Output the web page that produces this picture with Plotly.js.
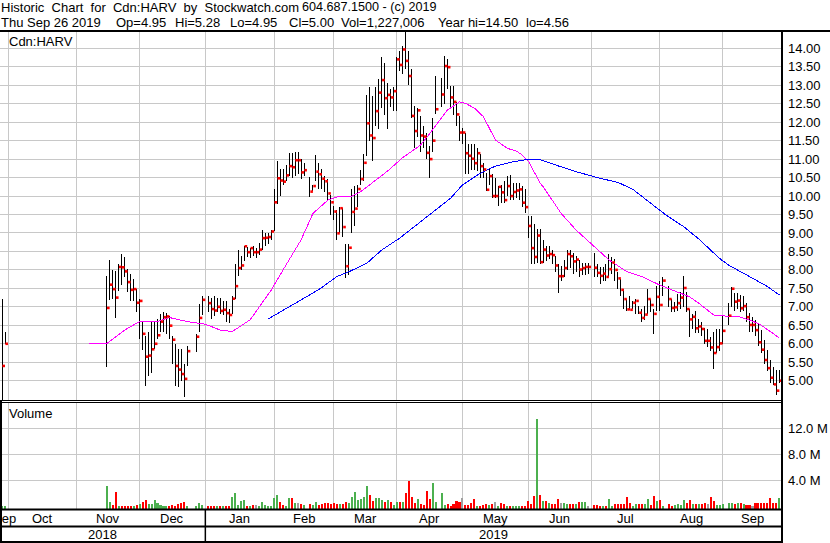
<!DOCTYPE html>
<html><head><meta charset="utf-8">
<script src="https://cdn.plot.ly/plotly-3.0.1.min.js"></script>
<style>
html,body{margin:0;padding:0;background:#fff;}
#chart{width:830px;height:543px;}
.scatterlayer .js-line{shape-rendering:crispEdges;}
</style></head><body><div id="chart"></div>
<script>
// ---------- DATA ----------
// Two isolated trades in Sep 2018
const preDates = ['2018-09-27', '2018-09-28'];
const preHigh  = [7.20, 6.33];
const preLow   = [4.40, 5.99];
const preClose = [5.40, 6.00];
const preVolM  = [0.10, 0.10];

// Consecutive weekdays starting here (null = holiday / no trade)
const startDate = '2018-11-15';
const high = [
 7.84,8.27,8.00,7.96,8.16,8.43,8.34,8.02,7.89,7.75,7.48,7.20,
 6.58,6.22,6.31,6.62,6.62,6.67,6.80,6.85,6.83,6.76,6.22,5.99,5.86,5.85,5.45,5.95,null,null,6.26,7.07,7.30,
 null,7.30,7.25,7.30,7.25,7.25,7.16,7.16,6.95,7.30,8.17,8.55,8.39,8.66,8.62,8.59,8.64,8.60,8.73,9.09,9.00,9.00,9.09,
 10.18,10.94,10.72,10.72,10.85,11.17,11.17,11.19,11.19,10.99,10.90,null,10.52,10.31,11.10,10.90,10.72,10.54,10.45,10.04,
 9.72,9.62,9.69,9.67,8.69,8.69,10.20,10.27,10.31,10.71,11.13,12.73,12.94,12.71,12.96,13.16,13.77,13.61,13.07,12.89,12.94,
 13.77,13.93,14.06,14.50,13.93,13.43,12.44,12.39,12.17,11.90,11.72,11.36,12.12,13.25,null,13.20,13.79,13.70,12.98,12.98,12.55,12.17,
 11.85,11.72,11.40,11.40,11.40,11.31,11.13,10.90,10.63,10.77,10.59,10.50,10.27,10.30,10.40,10.54,10.58,10.36,10.36,10.36,10.27,10.18,9.46,
 9.46,9.23,9.10,9.10,8.82,8.64,8.64,8.55,8.37,8.15,8.10,8.28,8.55,8.55,8.46,8.37,8.28,8.19,8.19,8.19,
 null,8.47,8.16,8.07,8.07,8.16,8.43,8.34,8.30,7.93,7.75,7.48,7.21,7.30,7.16,7.21,7.03,6.94,7.03,7.48,7.21,6.94,7.57,
 7.71,7.80,null,7.57,7.21,7.12,7.35,7.39,7.84,7.39,6.94,6.80,6.89,6.67,6.58,6.44,6.40,6.17,6.31,6.40,6.40,6.76,
 null,7.10,7.55,7.37,7.37,7.32,7.28,7.10,6.82,6.73,6.64,6.55,6.37,6.10,5.83,5.56,5.38,5.29,5.28
];
const low = [
 5.36,7.18,7.20,6.70,7.44,7.60,7.80,7.40,7.16,7.16,6.85,6.13,
 5.84,4.86,5.12,5.22,5.86,6.13,6.31,6.31,6.26,6.13,5.45,4.86,4.82,5.00,4.56,5.40,null,null,5.78,6.32,6.78,
 null,6.85,6.67,6.75,6.85,6.80,6.78,6.60,6.55,6.80,7.20,7.83,8.01,8.23,8.35,8.33,8.38,8.33,8.40,8.55,8.65,8.71,8.80,
 9.05,9.78,10.00,10.31,10.40,10.54,10.50,10.54,10.60,10.45,10.55,null,9.98,10.15,10.40,10.20,10.20,10.12,9.90,9.50,
 9.36,8.81,9.00,8.90,7.77,7.87,9.00,9.20,9.70,10.30,10.40,11.08,11.50,10.95,11.90,11.81,12.39,12.20,11.81,12.40,12.30,
 12.30,13.39,13.30,13.43,13.00,12.10,11.31,11.60,11.18,11.30,11.00,10.50,11.20,12.21,null,12.40,12.50,12.90,12.40,12.20,11.90,11.50,
 11.40,10.59,10.59,10.70,10.70,10.68,10.50,10.50,10.14,10.30,9.95,9.95,9.73,9.80,9.82,10.00,9.90,9.90,9.95,9.90,9.70,9.55,8.87,
 8.15,8.15,8.20,8.15,8.20,8.25,8.30,8.15,7.95,7.38,7.70,7.80,8.00,8.05,7.90,7.95,7.80,7.85,7.85,7.90,
 null,7.80,7.80,7.62,7.70,7.70,7.80,7.90,7.70,7.48,7.30,6.94,6.90,6.92,6.95,6.80,6.80,6.60,6.65,6.80,6.85,6.26,6.90,
 6.90,7.30,null,7.00,6.85,6.85,6.90,6.95,7.00,6.85,6.17,6.40,6.30,6.30,6.20,5.99,5.90,5.80,5.31,5.75,5.80,6.00,
 null,6.50,7.00,6.90,6.95,6.85,6.90,6.60,6.33,6.33,6.20,5.95,5.75,5.45,5.25,4.95,4.88,4.61,4.95
];
const close = [
 6.97,7.60,7.48,7.25,8.08,8.07,7.96,7.67,7.46,7.48,7.11,7.16,
 6.27,5.65,5.68,5.85,6.00,6.23,6.60,6.72,6.74,6.49,6.11,5.40,5.30,5.18,5.05,5.80,null,null,6.19,6.70,7.19,
 null,7.10,6.94,6.90,7.00,6.89,6.92,6.83,6.78,7.22,7.56,8.05,8.12,8.64,8.48,8.59,8.48,8.48,8.55,8.86,8.87,8.89,9.04,
 9.83,10.48,10.42,10.39,10.56,10.81,10.78,10.97,10.97,10.64,10.70,null,10.12,10.27,10.66,10.59,10.47,10.40,10.07,9.83,
 9.58,8.99,9.67,9.16,8.10,8.60,9.57,9.66,10.19,10.46,10.90,11.97,11.64,11.57,12.30,12.80,13.14,12.65,12.74,12.67,12.84,
 13.70,13.55,13.97,13.66,13.25,12.17,11.76,12.32,11.64,11.61,11.17,11.00,11.50,12.35,null,12.75,13.52,13.49,12.67,12.55,12.21,11.72,
 11.72,11.16,11.09,11.01,10.89,11.16,10.81,10.72,10.17,10.54,10.00,10.00,10.25,10.10,9.89,10.27,10.00,10.11,10.15,10.18,9.82,9.70,9.19,
 8.59,8.35,8.93,8.21,8.55,8.39,8.43,8.40,8.12,7.83,7.83,8.05,8.43,8.37,8.23,8.28,8.01,8.05,8.08,8.08,
 null,8.06,7.92,7.84,7.90,7.81,8.02,8.20,8.00,7.77,7.46,7.21,6.93,6.92,7.11,7.16,6.84,6.70,6.79,7.21,7.05,6.81,7.27,
 7.05,7.71,null,7.21,6.97,6.99,7.10,7.25,7.51,6.94,6.66,6.73,6.42,6.47,6.40,6.08,6.08,5.90,5.75,5.91,6.01,6.35,
 null,6.76,7.49,7.14,7.17,6.96,7.02,6.72,6.51,6.51,6.37,6.04,5.84,5.56,5.34,5.08,4.90,4.73,5.00
];
const volM = [ // millions of shares
 3.1,0.66,0.2,2.25,0.1,0.1,0.1,0.1,0.1,0.1,0.15,0.4,
 0.6,1.0,0.4,0.4,0.9,0.5,0.2,0.1,0.1,0.1,0.2,0.1,0.35,0.55,0.6,0.1,null,null,0.1,0.45,0.2,
 null,0.05,0.05,0.05,0.1,0.05,0.1,0.1,0.05,1.4,2.0,0.15,0.8,0.9,0.05,0.1,0.15,0.15,0.1,0.6,0.2,0.1,0.1,
 1.3,1.8,0.7,0.15,0.1,1.3,1.3,0.45,0.45,0.35,0.2,null,0.35,0.2,0.67,0.2,0.3,0.46,0.56,0.3,
 0.46,0.35,0.35,0.35,0.6,0.56,1.5,2.2,0.9,1.2,1.5,3.1,1.7,0.87,1.3,1.3,1.0,0.72,1.0,0.6,0.25,
 0.67,0.67,0.72,2.1,3.9,1.5,0.56,1.2,0.3,0.2,2.36,1.13,3.59,0.67,null,2.05,0.2,0.35,0.1,0.4,0.8,0.67,
 1.3,0.2,0.2,0.56,1.13,0.1,0.1,0.15,0.35,0.15,0.4,0.67,0.1,0.46,0.3,0.05,0.05,0.05,0.05,0.05,0.05,0.05,0.82,
 0.4,1.59,13.4,1.79,0.87,0.87,0.56,0.3,0.3,1.18,0.56,0.56,0.4,0.4,0.3,0.3,0.6,0.72,0.72,0.05,
 null,0.15,0.15,0.05,0.05,0.1,1.18,0.1,0.3,0.4,0.3,0.4,1.49,0.56,0.1,0.3,0.4,0.4,0.4,1.18,0.2,1.59,0.77,
 0.97,0.05,null,0.3,0.1,0.15,0.3,0.2,0.97,0.46,0.97,0.3,0.3,0.35,0.3,0.46,0.4,1.44,0.82,0.2,0.2,0.4,
 null,0.46,0.56,0.4,0.56,0.56,0.4,0.2,0.15,0.1,0.46,0.46,0.46,0.46,0.46,1.28,0.46,0.46,1.227006
];

// Moving averages
const magDates = ['2018-11-07','2018-11-15','2018-11-23','2018-11-30','2018-12-10','2018-12-14','2018-12-24','2019-01-01','2019-01-08','2019-01-14','2019-01-22','2019-01-31','2019-02-06','2019-02-14','2019-02-20','2019-02-27','2019-03-05','2019-03-11','2019-03-14','2019-03-20','2019-03-27','2019-04-03','2019-04-11','2019-04-17','2019-04-24','2019-04-30','2019-05-02','2019-05-07','2019-05-10','2019-05-16','2019-05-22','2019-05-27','2019-05-29','2019-05-31','2019-06-06','2019-06-07','2019-06-17','2019-06-24','2019-07-02','2019-07-09','2019-07-17','2019-07-24','2019-08-01','2019-08-09','2019-08-15','2019-08-20','2019-08-27','2019-09-02','2019-09-06','2019-09-12','2019-09-17','2019-09-23','2019-09-26'];
const magVals = [6.00,6.00,6.37,6.60,6.60,6.71,6.60,6.53,6.37,6.33,6.65,7.45,8.00,8.81,9.53,9.89,10.00,10.00,10.12,10.37,10.68,11.04,11.38,11.79,12.33,12.55,12.51,12.38,12.15,11.52,11.29,11.22,11.11,10.95,10.35,10.25,9.53,9.08,8.63,8.27,7.95,7.82,7.59,7.41,7.27,7.10,6.78,6.75,6.75,6.64,6.55,6.33,6.15];
const blueDates = ['2019-01-30','2019-02-11','2019-02-22','2019-03-04','2019-03-08','2019-03-18','2019-03-25','2019-04-02','2019-04-10','2019-04-18','2019-04-25','2019-05-01','2019-05-09','2019-05-16','2019-05-24','2019-05-30','2019-06-06','2019-06-17','2019-06-24','2019-07-04','2019-07-12','2019-07-19','2019-07-29','2019-08-05','2019-08-13','2019-08-20','2019-08-29','2019-09-03','2019-09-12','2019-09-20','2019-09-26'];
const blueVals = [6.67,7.05,7.47,7.82,7.95,8.18,8.54,8.86,9.24,9.64,9.94,10.30,10.62,10.81,10.93,10.98,10.98,10.79,10.66,10.48,10.37,10.18,9.80,9.49,9.17,8.84,8.31,8.13,7.82,7.55,7.32];

// Axis labels and header texts
const monthStarts = ['2018-10-01','2018-11-01','2018-12-01','2019-01-01','2019-02-01','2019-03-01','2019-04-01','2019-05-01','2019-06-01','2019-07-01','2019-08-01','2019-09-01'];
const monthNames = ['Sep','Oct','Nov','Dec','Jan','Feb','Mar','Apr','May','Jun','Jul','Aug','Sep'];
const yearNames = ['2018','2019'];
const priceTicks = [5.0,5.5,6.0,6.5,7.0,7.5,8.0,8.5,9.0,9.5,10.0,10.5,11.0,11.5,12.0,12.5,13.0,13.5,14.0];
const volTicks = [4, 8, 12];
const header1 = [['Historic','Chart','for','Cdn:HARV','by','Stockwatch.com'], ['604.687.1500 - (c) 2019']];
const header2 = ['Thu Sep 26 2019','Op=4.95','Hi=5.28','Lo=4.95','Cl=5.00','Vol=1,227,006','Year hi=14.50','lo=4.56'];

// ---------- BUILD ----------
const ORIGIN = Date.UTC(2018, 9, 1); // Monday -> weekday slot 0
function slotOf(s) {
  const p = s.split('-').map(Number);
  const days = Math.round((Date.UTC(p[0], p[1]-1, p[2]) - ORIGIN) / 86400000);
  const w = Math.floor(days / 7), r = days - 7*w;
  return 5*w + Math.min(r, 4);
}
const X=[],H=[],L=[],C=[],V=[];
preDates.forEach((d,k)=>{X.push(slotOf(d));H.push(preHigh[k]);L.push(preLow[k]);C.push(preClose[k]);V.push(preVolM[k]);});
const s0 = slotOf(startDate);
high.forEach((h,k)=>{ if(h==null) return; X.push(s0+k);H.push(h);L.push(low[k]);C.push(close[k]);V.push(volM[k]); });

const segX=[], segY=[];
X.forEach((x,k)=>{ segX.push(x,x,null); segY.push(L[k],H[k],null); });

const UP='#4cb04f', DOWN='#ff0000', FLAT='#a0a0a0';
const volColors = C.map((c,k)=> k===0 ? UP : (c>C[k-1]?UP:(c<C[k-1]?DOWN:FLAT)));
const VOL_FLOOR = -0.415;

const XR = [-2.68, 258.87];
const CLOSE_SHIFT = 0.55;

const W=830, HH=543, ML=0, MR=48, MT=32, MB=34;
const PW=W-ML-MR, PH=HH-MT-MB;
const px = v => (v-ML)/PW, py = v => (HH-MB-v)/PH;

const bounds = monthStarts.map(slotOf);
const edges = [XR[0]].concat(bounds, [XR[1]]);
const FONT = 'Liberation Sans, Arial, sans-serif';

const traces = [
  {type:'scatter', mode:'lines', x:segX, y:segY, xaxis:'x', yaxis:'y',
   line:{color:'#000', width:1}, hoverinfo:'skip', connectgaps:false},
  {type:'scatter', mode:'lines', x:magDates.map(slotOf), y:magVals, xaxis:'x', yaxis:'y',
   line:{color:'#ff00ff', width:1}, hoverinfo:'skip'},
  {type:'scatter', mode:'lines', x:blueDates.map(slotOf), y:blueVals, xaxis:'x', yaxis:'y',
   line:{color:'#0000ff', width:1}, hoverinfo:'skip'},
  {type:'scatter', mode:'markers', x:X, y:C, xaxis:'x2', yaxis:'y',
   marker:{symbol:'square', size:2.6, color:'#ff0000', line:{width:0}}, hoverinfo:'skip'},
  {type:'bar', x:X, y:V.map(v=>v-VOL_FLOOR), base:VOL_FLOOR, xaxis:'x', yaxis:'y2', width:0.68,
   marker:{color:volColors, line:{width:0}}, hoverinfo:'skip'}
];

const ann = (text,x,y,size,o={}) => Object.assign({text, xref:'paper', yref:'paper', x:px(x), y:py(y),
  xanchor:'left', yanchor:'middle', showarrow:false, borderpad:0, borderwidth:0,
  font:{family:FONT, size:size, color:'#000'}}, o);
// header pieces placed where the reference shows them (wide GDI-style word spacing)
const SP2 = ' \u00a0';
const header1X = [1, 301.7];
const header1Size = [13, 12.6];
const header2X = [1, 115.7, 175, 230, 289.3, 341, 438, 526];
const annotations = [];
header1.forEach((words,k)=>annotations.push(ann(words.join(SP2), header1X[k], 7, header1Size[k])));
header2.forEach((t,k)=>annotations.push(ann(t, header2X[k], 22, 13)));
annotations.push(ann('Cdn:HARV', 9, 41.5, 13));
annotations.push(ann('Volume', 9, 413.5, 13));
monthNames.forEach((m,k)=>{
  annotations.push({text:m, xref:'x', yref:'paper', x:(edges[k]+edges[k+1])/2, y:py(518),
    xanchor:'center', yanchor:'middle', showarrow:false, borderpad:0,
    font:{family:FONT, size:13, color:'#000'}});
});
const jan = slotOf('2019-01-01');
const yearEdges = [XR[0], jan, XR[1]];
yearNames.forEach((t,k)=>{
  annotations.push({text:t, xref:'x', yref:'paper', x:(yearEdges[k]+yearEdges[k+1])/2, y:py(534.5),
    xanchor:'center', yanchor:'middle', showarrow:false, borderpad:0,
    font:{family:FONT, size:13, color:'#000'}});
});

const ln = (x0,y0,x1,y1,w) => ({type:'line', xref:'paper', yref:'paper', x0:px(x0), y0:py(y0), x1:px(x1), y1:py(y1),
  line:{color:'#000', width:w}, layer:'above'});
const shapes = [
  ln(0,31,830,31,2),
  ln(782,30,782,543,2),
  ln(0,400.5,782,400.5,1),
  ln(0,402.5,782,402.5,1),
  ln(0,509.5,782,509.5,2),
  ln(0,526.5,782,526.5,2),
  ln(0,542,782,542,2),
  ln(1,400,1,543,2),
  {type:'line', xref:'x', yref:'paper', x0:jan, x1:jan, y0:py(510), y1:py(543), line:{color:'#000', width:1.5}, layer:'above'}
];

const GRID = '#c8c8c8';
const layout = {
  width:W, height:HH, autosize:false,
  margin:{l:ML, r:MR, t:MT, b:MB, pad:0},
  paper_bgcolor:'#fff', plot_bgcolor:'#fff',
  showlegend:false, hovermode:false,
  font:{family:FONT, size:13, color:'#000'},
  xaxis:{domain:[0,1], range:XR, anchor:'y2', tickvals:bounds, showticklabels:false, ticks:'',
         showgrid:true, gridcolor:GRID, gridwidth:1, zeroline:false, showline:false, fixedrange:true},
  xaxis2:{overlaying:'x', anchor:'y', range:[XR[0]-CLOSE_SHIFT, XR[1]-CLOSE_SHIFT], visible:false, fixedrange:true},
  yaxis:{domain:[py(400),1], range:[4.4774,14.4417], side:'right', anchor:'x',
         tickvals:priceTicks, ticktext:priceTicks.map(v=>v.toFixed(2)), ticks:'', ticklabelstandoff:5,
         tickfont:{family:FONT, size:13, color:'#000'},
         showgrid:true, gridcolor:GRID, gridwidth:1, zeroline:false, showline:false, fixedrange:true},
  yaxis2:{domain:[0,py(403)], range:[VOL_FLOOR,15.89], side:'right', anchor:'x',
         tickvals:volTicks, ticktext:volTicks.map(v=>v.toFixed(1)+' M'), ticks:'', ticklabelstandoff:5,
         tickfont:{family:FONT, size:13, color:'#000'},
         showgrid:true, gridcolor:GRID, gridwidth:1, zeroline:false, showline:false, fixedrange:true},
  bargap:0,
  annotations, shapes
};
Plotly.newPlot('chart', traces, layout, {displayModeBar:false, staticPlot:true});
</script></body></html>
